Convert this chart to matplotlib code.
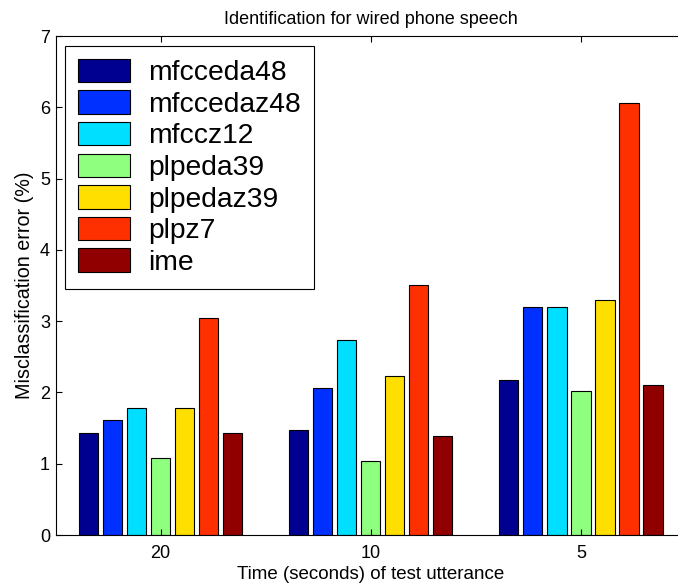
import matplotlib
matplotlib.use("Agg")
import matplotlib.pyplot as plt
import numpy as np

plt.rcParams['font.family'] = ['Liberation Sans', 'DejaVu Sans']

groups = ["20", "10", "5"]
series = ["mfcceda48", "mfccedaz48", "mfccz12", "plpeda39", "plpedaz39", "plpz7", "ime"]
values = {
    "mfcceda48":  [1.43, 1.47, 2.17],
    "mfccedaz48": [1.61, 2.06, 3.20],
    "mfccz12":    [1.78, 2.73, 3.20],
    "plpeda39":   [1.08, 1.04, 2.02],
    "plpedaz39":  [1.78, 2.23, 3.29],
    "plpz7":      [3.04, 3.51, 6.06],
    "ime":        [1.43, 1.39, 2.10],
}
colors = ["#000090", "#0030FF", "#00DFFF", "#8FFF80", "#FFDF00", "#FF3000", "#900000"]

W, H = 678, 587
fig = plt.figure(figsize=(W / 100, H / 100), dpi=100)
left, right, bottom, top = 55.5, 686, 535, 36
ax = fig.add_axes([left / W, 1 - bottom / H, (right - left) / W, (bottom - top) / H])

x = np.arange(1, len(groups) + 1)
n = len(series)
pitch = 0.8 / n
bw = pitch * 0.8
for i, (s, c) in enumerate(zip(series, colors)):
    off = (i - (n - 1) / 2) * pitch
    ax.bar(x + off, values[s], width=bw, color=c, edgecolor="black", linewidth=0.8, label=s)

ax.set_xlim(0.5, 3.5)
ax.set_ylim(0, 7)
ax.set_xticks(x)
ax.set_xticklabels(groups)
ax.set_yticks(range(0, 8))
ax.tick_params(axis="both", direction="in", labelsize=13, length=4, width=0.8,
               top=True, right=True)
ax.tick_params(axis="x", pad=7)
ax.tick_params(axis="y", pad=4)
for sp in ax.spines.values():
    sp.set_linewidth(0.8)

ax.set_title("Identification for wired phone speech", fontsize=13, pad=9)
ax.set_xlabel("Time (seconds) of test utterance", fontsize=13.5, labelpad=3)
ax.set_ylabel("Misclassification error (%)", fontsize=14.2, labelpad=4)

leg = ax.legend(loc="upper left", fontsize=20.3, frameon=True, fancybox=False,
                edgecolor="black", framealpha=1, borderaxespad=0.35,
                handlelength=1.85, handleheight=0.9, handletextpad=0.65,
                labelspacing=0.15, borderpad=0.45)
leg.get_frame().set_linewidth(0.8)

fig.savefig("out.png", dpi=100)
